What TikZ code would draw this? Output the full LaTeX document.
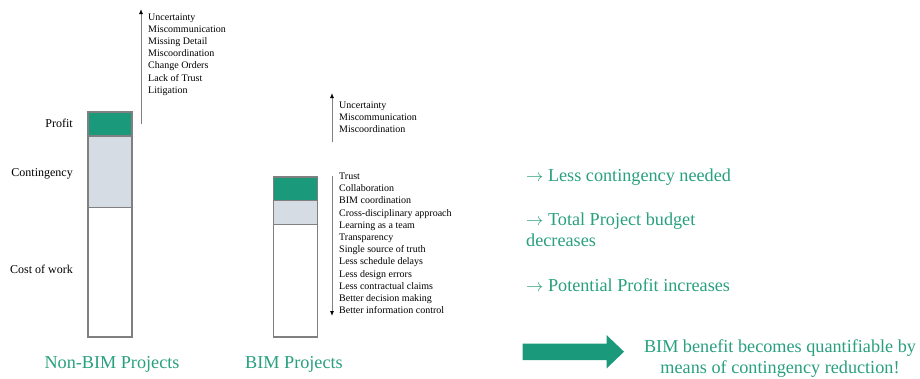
\documentclass[tikz,border=0pt]{standalone}
\usepackage{fontspec}
\setmainfont{Liberation Serif}
\usetikzlibrary{arrows.meta}
\definecolor{profitgreen}{RGB}{26,154,122}
\definecolor{textgreen}{RGB}{40,160,126}
\definecolor{contgray}{RGB}{214,220,228}
\definecolor{linegray}{RGB}{128,128,128}
\newcommand{\rarr}{\ensuremath{\rightarrow}}
\tikzset{
  barseg/.style={draw=linegray, line width=1.2pt},
  listtxt/.style={anchor=base west, inner sep=0pt, font=\fontsize{10}{12}\selectfont},
  sidelabel/.style={anchor=base east, inner sep=0pt, font=\fontsize{12}{14}\selectfont},
  greentxt/.style={inner sep=0pt, text=textgreen, font=\fontsize{18.2}{21.6}\selectfont},
  updown/.style={draw=linegray, line width=0.9pt, -{Latex[length=5pt,width=4pt,color=black]}}
}
\begin{document}
\begin{tikzpicture}[x=1pt,y=-1pt]
\useasboundingbox (0,0) rectangle (920,378);
% Non-BIM bar
\filldraw[barseg, fill=white] (88,207.5) rectangle (132,337);
\filldraw[barseg, fill=contgray] (88,136) rectangle (132,207.5);
\filldraw[barseg, fill=profitgreen] (88,112) rectangle (132,136);
\node[sidelabel] (lprofit) at (73,127.5) {Profit};
\node[sidelabel] (lcont) at (73,176.5) {Contingency};
\node[sidelabel] (lcost) at (73,273.5) {Cost of work};
% Non-BIM arrow and list
\coordinate (na1) at (141,124);
\coordinate (na2) at (141,9);
\draw[updown] (na1) -- (na2);
\foreach \t [count=\i from 0] in {Uncertainty,Miscommunication,Missing Detail,Miscoordination,Change Orders,Lack of Trust,Litigation}
  \node[listtxt] (n\i) at (148,20+12.2*\i) {\t};
\node[greentxt, anchor=base] (nbim) at (112,368) {Non-BIM Projects};
% BIM bar
\filldraw[barseg, fill=white] (273.5,224.5) rectangle (317.5,337);
\filldraw[barseg, fill=contgray] (273.5,200.5) rectangle (317.5,224.5);
\filldraw[barseg, fill=profitgreen] (273.5,177) rectangle (317.5,200.5);
% BIM upper arrow and list
\coordinate (ba1) at (332,142);
\coordinate (ba2) at (332,93);
\draw[updown] (ba1) -- (ba2);
\foreach \t [count=\i from 0] in {Uncertainty,Miscommunication,Miscoordination}
  \node[listtxt] (u\i) at (339,108+12.4*\i) {\t};
% BIM lower arrow and list
\coordinate (bb1) at (332,176);
\coordinate (bb2) at (332,316);
\draw[updown] (bb1) -- (bb2);
\foreach \t [count=\i from 0] in {Trust,Collaboration,BIM coordination,Cross-disciplinary approach,Learning as a team,Transparency,Single source of truth,Less schedule delays,Less design errors,Less contractual claims,Better decision making,Better information control}
  \node[listtxt] (d\i) at (339,179.5+12.2*\i) {\t};
\node[greentxt, anchor=base] (bim) at (294,368) {BIM Projects};
% Right-hand statements
\node[greentxt, anchor=base west] (s1) at (526,181) {\rarr{} Less contingency needed};
\node[greentxt, anchor=base west] (s2) at (526,225.5) {\rarr{} Total Project budget};
\node[greentxt, anchor=base west] (s2b) at (526,246.5) {decreases};
\node[greentxt, anchor=base west] (s3) at (526,291.5) {\rarr{} Potential Profit increases};
% Big arrow
\fill[profitgreen] (522.5,343.5) -- (606.5,343.5) -- (606.5,335) -- (624,351.7) -- (606.5,368.5) -- (606.5,360) -- (522.5,360) -- cycle;
\node[greentxt, anchor=base] (c1) at (780,352) {BIM benefit becomes quantifiable by};
\node[greentxt, anchor=base] (c2) at (780,373.5) {means of contingency reduction!};
\end{tikzpicture}
\end{document}
